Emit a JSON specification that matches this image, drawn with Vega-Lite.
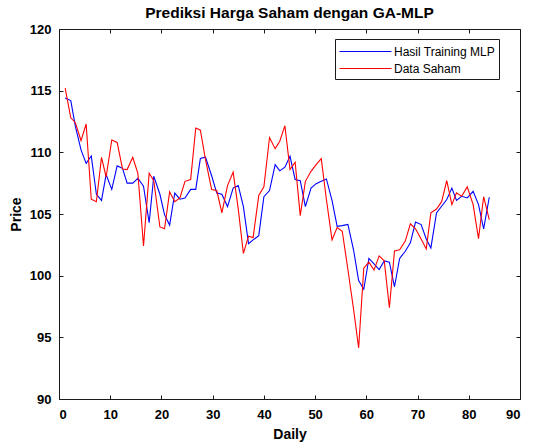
{
  "$schema": "https://vega.github.io/schema/vega-lite/v6.json",
  "autosize": {"type": "none"},
  "padding": {"left": 59, "top": 29, "right": 15, "bottom": 46},
  "width": 461,
  "height": 370,
  "background": "white",
  "title": {"text": "Prediksi Harga Saham dengan GA-MLP", "font": "Liberation Sans", "fontSize": 15.5, "fontWeight": "bold", "color": "black", "offset": 2},
  "config": {
    "view": {"stroke": "#1a1a1a", "strokeWidth": 1},
    "axis": {"grid": false, "domain": false, "tickColor": "#1a1a1a", "tickSize": -4, "labelFont": "Liberation Sans", "labelFontSize": 13, "labelFontWeight": "bold", "labelColor": "black", "titleFont": "Liberation Sans", "titleFontSize": 14, "titleFontWeight": "bold", "titleColor": "black"},
    "legend": {"orient": "none", "legendX": 276, "legendY": 10, "title": null, "symbolType": "M-1,0H5.5", "symbolSize": 256, "symbolStrokeWidth": 1, "labelOffset": 38, "labelFont": "Liberation Sans", "labelFontSize": 12, "labelColor": "black", "strokeColor": "#1a1a1a", "fillColor": "white", "padding": 4, "cornerRadius": 0, "rowPadding": 2}
  },
  "data": {"values": [
    {"series": "Hasil Training MLP", "day": 1.2, "price": 114.4},
    {"series": "Hasil Training MLP", "day": 2.3, "price": 114.2},
    {"series": "Hasil Training MLP", "day": 3.2, "price": 112.1},
    {"series": "Hasil Training MLP", "day": 4.3, "price": 110.2},
    {"series": "Hasil Training MLP", "day": 5.3, "price": 109.1},
    {"series": "Hasil Training MLP", "day": 6.3, "price": 109.7},
    {"series": "Hasil Training MLP", "day": 7.3, "price": 106.6},
    {"series": "Hasil Training MLP", "day": 8.3, "price": 106.1},
    {"series": "Hasil Training MLP", "day": 9.2, "price": 108.2},
    {"series": "Hasil Training MLP", "day": 10.3, "price": 107.0},
    {"series": "Hasil Training MLP", "day": 11.35, "price": 108.9},
    {"series": "Hasil Training MLP", "day": 12.4, "price": 108.7},
    {"series": "Hasil Training MLP", "day": 13.3, "price": 107.5},
    {"series": "Hasil Training MLP", "day": 14.4, "price": 107.5},
    {"series": "Hasil Training MLP", "day": 15.4, "price": 107.9},
    {"series": "Hasil Training MLP", "day": 16.5, "price": 107.25},
    {"series": "Hasil Training MLP", "day": 17.6, "price": 104.3},
    {"series": "Hasil Training MLP", "day": 18.5, "price": 108.06},
    {"series": "Hasil Training MLP", "day": 19.7, "price": 106.6},
    {"series": "Hasil Training MLP", "day": 20.6, "price": 104.95},
    {"series": "Hasil Training MLP", "day": 21.6, "price": 104.1},
    {"series": "Hasil Training MLP", "day": 22.6, "price": 106.7},
    {"series": "Hasil Training MLP", "day": 23.6, "price": 106.2},
    {"series": "Hasil Training MLP", "day": 24.6, "price": 106.3},
    {"series": "Hasil Training MLP", "day": 25.7, "price": 107.0},
    {"series": "Hasil Training MLP", "day": 26.7, "price": 107.0},
    {"series": "Hasil Training MLP", "day": 27.6, "price": 109.5},
    {"series": "Hasil Training MLP", "day": 28.6, "price": 109.6},
    {"series": "Hasil Training MLP", "day": 29.8, "price": 108.1},
    {"series": "Hasil Training MLP", "day": 30.8, "price": 106.7},
    {"series": "Hasil Training MLP", "day": 31.8, "price": 106.6},
    {"series": "Hasil Training MLP", "day": 32.9, "price": 105.6},
    {"series": "Hasil Training MLP", "day": 34.0, "price": 107.1},
    {"series": "Hasil Training MLP", "day": 35.0, "price": 107.3},
    {"series": "Hasil Training MLP", "day": 36.0, "price": 105.6},
    {"series": "Hasil Training MLP", "day": 37.0, "price": 102.6},
    {"series": "Hasil Training MLP", "day": 37.9, "price": 102.9},
    {"series": "Hasil Training MLP", "day": 39.0, "price": 103.25},
    {"series": "Hasil Training MLP", "day": 40.0, "price": 106.4},
    {"series": "Hasil Training MLP", "day": 41.1, "price": 106.9},
    {"series": "Hasil Training MLP", "day": 42.2, "price": 109.0},
    {"series": "Hasil Training MLP", "day": 43.1, "price": 108.5},
    {"series": "Hasil Training MLP", "day": 44.1, "price": 108.8},
    {"series": "Hasil Training MLP", "day": 45.1, "price": 109.68},
    {"series": "Hasil Training MLP", "day": 46.1, "price": 107.8},
    {"series": "Hasil Training MLP", "day": 47.1, "price": 107.7},
    {"series": "Hasil Training MLP", "day": 48.1, "price": 105.6},
    {"series": "Hasil Training MLP", "day": 49.2, "price": 107.1},
    {"series": "Hasil Training MLP", "day": 50.2, "price": 107.46},
    {"series": "Hasil Training MLP", "day": 51.2, "price": 107.65},
    {"series": "Hasil Training MLP", "day": 52.2, "price": 107.84},
    {"series": "Hasil Training MLP", "day": 53.3, "price": 106.1},
    {"series": "Hasil Training MLP", "day": 54.3, "price": 104.0},
    {"series": "Hasil Training MLP", "day": 55.3, "price": 104.06},
    {"series": "Hasil Training MLP", "day": 56.4, "price": 104.15},
    {"series": "Hasil Training MLP", "day": 57.5, "price": 102.1},
    {"series": "Hasil Training MLP", "day": 58.5, "price": 99.6},
    {"series": "Hasil Training MLP", "day": 59.5, "price": 98.9},
    {"series": "Hasil Training MLP", "day": 60.5, "price": 101.4},
    {"series": "Hasil Training MLP", "day": 61.5, "price": 100.95},
    {"series": "Hasil Training MLP", "day": 62.5, "price": 100.5},
    {"series": "Hasil Training MLP", "day": 63.5, "price": 101.2},
    {"series": "Hasil Training MLP", "day": 64.5, "price": 101.1},
    {"series": "Hasil Training MLP", "day": 65.5, "price": 99.1},
    {"series": "Hasil Training MLP", "day": 66.5, "price": 101.4},
    {"series": "Hasil Training MLP", "day": 67.6, "price": 101.98},
    {"series": "Hasil Training MLP", "day": 68.6, "price": 102.66},
    {"series": "Hasil Training MLP", "day": 69.6, "price": 104.35},
    {"series": "Hasil Training MLP", "day": 70.7, "price": 104.14},
    {"series": "Hasil Training MLP", "day": 71.7, "price": 102.98},
    {"series": "Hasil Training MLP", "day": 72.6, "price": 102.25},
    {"series": "Hasil Training MLP", "day": 73.7, "price": 105.09},
    {"series": "Hasil Training MLP", "day": 74.7, "price": 105.63},
    {"series": "Hasil Training MLP", "day": 75.7, "price": 106.17},
    {"series": "Hasil Training MLP", "day": 76.7, "price": 107.1},
    {"series": "Hasil Training MLP", "day": 77.6, "price": 106.1},
    {"series": "Hasil Training MLP", "day": 78.6, "price": 106.44},
    {"series": "Hasil Training MLP", "day": 79.7, "price": 106.3},
    {"series": "Hasil Training MLP", "day": 80.85, "price": 106.84},
    {"series": "Hasil Training MLP", "day": 81.9, "price": 105.76},
    {"series": "Hasil Training MLP", "day": 82.9, "price": 103.79},
    {"series": "Hasil Training MLP", "day": 84.0, "price": 106.36},
    {"series": "Data Saham", "day": 1.2, "price": 115.2},
    {"series": "Data Saham", "day": 2.3, "price": 112.8},
    {"series": "Data Saham", "day": 3.2, "price": 112.4},
    {"series": "Data Saham", "day": 4.3, "price": 110.95},
    {"series": "Data Saham", "day": 5.3, "price": 112.3},
    {"series": "Data Saham", "day": 6.3, "price": 106.2},
    {"series": "Data Saham", "day": 7.3, "price": 106.0},
    {"series": "Data Saham", "day": 8.3, "price": 109.6},
    {"series": "Data Saham", "day": 9.2, "price": 108.0},
    {"series": "Data Saham", "day": 10.3, "price": 111.0},
    {"series": "Data Saham", "day": 11.35, "price": 110.8},
    {"series": "Data Saham", "day": 12.4, "price": 108.65},
    {"series": "Data Saham", "day": 13.3, "price": 108.6},
    {"series": "Data Saham", "day": 14.4, "price": 109.6},
    {"series": "Data Saham", "day": 15.4, "price": 108.3},
    {"series": "Data Saham", "day": 16.5, "price": 102.4},
    {"series": "Data Saham", "day": 17.6, "price": 108.3},
    {"series": "Data Saham", "day": 18.5, "price": 107.7},
    {"series": "Data Saham", "day": 19.7, "price": 103.95},
    {"series": "Data Saham", "day": 20.6, "price": 103.8},
    {"series": "Data Saham", "day": 21.6, "price": 106.8},
    {"series": "Data Saham", "day": 22.6, "price": 106.0},
    {"series": "Data Saham", "day": 23.6, "price": 106.3},
    {"series": "Data Saham", "day": 24.6, "price": 107.65},
    {"series": "Data Saham", "day": 25.7, "price": 107.8},
    {"series": "Data Saham", "day": 26.7, "price": 111.97},
    {"series": "Data Saham", "day": 27.6, "price": 111.8},
    {"series": "Data Saham", "day": 28.6, "price": 109.4},
    {"series": "Data Saham", "day": 29.8, "price": 106.98},
    {"series": "Data Saham", "day": 30.8, "price": 106.9},
    {"series": "Data Saham", "day": 31.8, "price": 105.1},
    {"series": "Data Saham", "day": 32.9, "price": 107.3},
    {"series": "Data Saham", "day": 34.0, "price": 108.4},
    {"series": "Data Saham", "day": 35.0, "price": 105.4},
    {"series": "Data Saham", "day": 36.0, "price": 101.8},
    {"series": "Data Saham", "day": 37.0, "price": 103.2},
    {"series": "Data Saham", "day": 37.9, "price": 103.1},
    {"series": "Data Saham", "day": 39.0, "price": 106.5},
    {"series": "Data Saham", "day": 40.0, "price": 107.2},
    {"series": "Data Saham", "day": 41.1, "price": 111.2},
    {"series": "Data Saham", "day": 42.2, "price": 110.3},
    {"series": "Data Saham", "day": 43.1, "price": 110.9},
    {"series": "Data Saham", "day": 44.1, "price": 112.16},
    {"series": "Data Saham", "day": 45.1, "price": 108.6},
    {"series": "Data Saham", "day": 46.1, "price": 109.2},
    {"series": "Data Saham", "day": 47.1, "price": 104.87},
    {"series": "Data Saham", "day": 48.1, "price": 107.65},
    {"series": "Data Saham", "day": 49.2, "price": 108.46},
    {"series": "Data Saham", "day": 50.2, "price": 109.0},
    {"series": "Data Saham", "day": 51.2, "price": 109.49},
    {"series": "Data Saham", "day": 52.2, "price": 106.2},
    {"series": "Data Saham", "day": 53.3, "price": 102.9},
    {"series": "Data Saham", "day": 54.3, "price": 103.9},
    {"series": "Data Saham", "day": 55.3, "price": 103.6},
    {"series": "Data Saham", "day": 56.4, "price": 100.5},
    {"series": "Data Saham", "day": 57.5, "price": 97.3},
    {"series": "Data Saham", "day": 58.5, "price": 94.15},
    {"series": "Data Saham", "day": 59.5, "price": 100.6},
    {"series": "Data Saham", "day": 60.5, "price": 101.1},
    {"series": "Data Saham", "day": 61.5, "price": 100.45},
    {"series": "Data Saham", "day": 62.5, "price": 101.6},
    {"series": "Data Saham", "day": 63.5, "price": 101.2},
    {"series": "Data Saham", "day": 64.5, "price": 97.4},
    {"series": "Data Saham", "day": 65.5, "price": 102.0},
    {"series": "Data Saham", "day": 66.5, "price": 102.1},
    {"series": "Data Saham", "day": 67.6, "price": 102.8},
    {"series": "Data Saham", "day": 68.6, "price": 104.2},
    {"series": "Data Saham", "day": 69.6, "price": 103.8},
    {"series": "Data Saham", "day": 70.7, "price": 102.98},
    {"series": "Data Saham", "day": 71.7, "price": 102.17},
    {"series": "Data Saham", "day": 72.6, "price": 105.09},
    {"series": "Data Saham", "day": 73.7, "price": 105.4},
    {"series": "Data Saham", "day": 74.7, "price": 106.0},
    {"series": "Data Saham", "day": 75.7, "price": 107.7},
    {"series": "Data Saham", "day": 76.7, "price": 105.76},
    {"series": "Data Saham", "day": 77.6, "price": 106.71},
    {"series": "Data Saham", "day": 78.6, "price": 106.44},
    {"series": "Data Saham", "day": 79.7, "price": 107.2},
    {"series": "Data Saham", "day": 80.85, "price": 105.76},
    {"series": "Data Saham", "day": 81.9, "price": 103.0},
    {"series": "Data Saham", "day": 82.9, "price": 106.4},
    {"series": "Data Saham", "day": 84.0, "price": 104.55}
  ]},
  "layer": [
    {
      "mark": {"type": "line", "strokeWidth": 1.1},
      "encoding": {
        "x": {"field": "day", "type": "quantitative", "scale": {"domain": [0, 90], "nice": false}, "axis": {"values": [0, 10, 20, 30, 40, 50, 60, 70, 80, 90], "title": "Daily", "labelPadding": 13, "titlePadding": 6}},
        "y": {"field": "price", "type": "quantitative", "scale": {"domain": [90, 120], "nice": false, "zero": false}, "axis": {"values": [90, 95, 100, 105, 110, 115, 120], "title": "Price", "labelPadding": 12, "titlePadding": 6}},
        "color": {"field": "series", "type": "nominal", "scale": {"domain": ["Hasil Training MLP", "Data Saham"], "range": ["#0000ff", "#ff0000"]}},
        "order": {"field": "day", "type": "quantitative"}
      }
    },
    {
      "mark": {"type": "point", "opacity": 0},
      "encoding": {
        "x": {"field": "day", "type": "quantitative", "axis": {"orient": "top", "values": [0, 10, 20, 30, 40, 50, 60, 70, 80, 90], "labels": false, "title": null}},
        "y": {"field": "price", "type": "quantitative", "axis": {"orient": "right", "values": [90, 95, 100, 105, 110, 115, 120], "labels": false, "title": null}}
      }
    }
  ],
  "resolve": {"axis": {"x": "independent", "y": "independent"}}
}
